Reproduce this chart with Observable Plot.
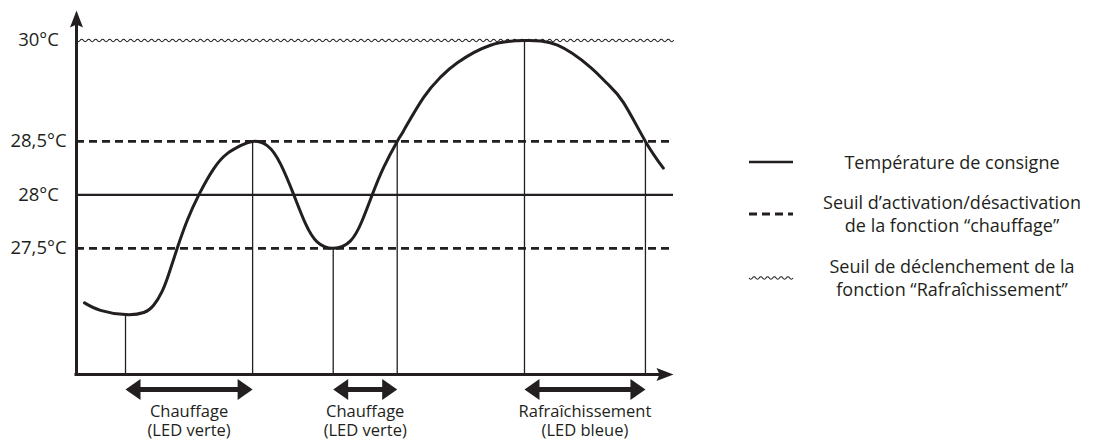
<!DOCTYPE html>
<html><head><meta charset="utf-8">
<script src="https://cdn.jsdelivr.net/npm/d3@7"></script>
<script src="https://cdn.jsdelivr.net/npm/@observablehq/plot@0.6"></script>
<style>
body{margin:0;background:#fff;font-family:"Open Sans",sans-serif;color:#231f20}
#wrap{position:relative;width:1093px;height:444px;overflow:hidden}
.sw{position:absolute;left:748px;width:46px;height:12px;transform:translateY(-50%)}
.lt{position:absolute;left:792px;width:320px;text-align:center;white-space:nowrap;font-size:18px;line-height:23px;transform:translateY(-50%)}
</style></head><body><div id="wrap"></div>
<script>
// ---- data ----
const timeT = [1.34, 4.02, 8.21, 11.27, 12.95, 14.36, 15.46, 16.87, 18.54, 20.49, 23.0, 25.24, 27.47, 29.5, 31.94, 34.17, 36.4, 38.36, 40.3, 43.0, 45.9, 47.86, 49.53, 51.47, 53.72, 54.8, 58.12, 60.97, 63.8, 69.35, 75.04, 80.57, 86.1, 88.9, 91.6, 95.3, 98.3];
const tempT = [26.99, 26.92, 26.88, 26.90, 26.97, 27.10, 27.26, 27.5, 27.76, 28.0, 28.245, 28.385, 28.46, 28.5, 28.46, 28.29, 28.0, 27.73, 27.56, 27.5, 27.57, 27.76, 28.0, 28.26, 28.5, 28.66, 29.15, 29.455, 29.67, 29.93, 30.0, 29.93, 29.60, 29.36, 29.08, 28.5, 28.25];
const eventT = [8.21, 29.5, 43.0, 53.72, 75.04, 95.3];
const eventTemp = [26.88, 28.5, 27.5, 28.5, 30, 28.5];
const periodStart = [8.21, 43.0, 75.04];
const periodEnd = [29.5, 53.72, 95.3];
const periodLabel = ["Chauffage\n(LED verte)", "Chauffage\n(LED verte)", "Rafraîchissement\n(LED bleue)"];
const yTickValues = [27.5, 28, 28.5, 30];
const yTickLabels = ["27,5°C", "28°C", "28,5°C", "30°C"];
const setpoint = 28;
const heatThresholds = [27.5, 28.5];
const coolThreshold = 30;
const axisBottomTemp = 26.32;
const legendLabels = ["Température de consigne", "Seuil d’activation/désactivation\nde la fonction “chauffage”", "Seuil de déclenchement de la\nfonction “Rafraîchissement”"];

// ---- build ----
const INK = "#231f20";
const xDomain = [0, 100];
// the drawing compresses the axis above 28,5 °C
const yCompress = t => t <= 28.5 ? t : 28.5 + (t - 28.5) * 0.629;
const curve = timeT.map((t, i) => ({t, temp: tempT[i]}));
const events = eventT.map((t, i) => ({t, temp: eventTemp[i]}));
const periods = periodStart.map((s, i) => ({start: s, end: periodEnd[i], mid: (s + periodEnd[i]) / 2, label: periodLabel[i]}));

function waveCurve(context) {
  let pts = [];
  return {
    areaStart() {}, areaEnd() {},
    lineStart() { pts = []; },
    point(x, y) { pts.push([+x, +y]); },
    lineEnd() {
      const half = 3.5, amp = 1.2;
      for (let i = 0; i < pts.length; i++) {
        const [x, y] = pts[i];
        if (i === 0) { context.moveTo(x, y); continue; }
        const [x0, y0] = pts[i - 1];
        const len = Math.hypot(x - x0, y - y0);
        const n = Math.max(1, Math.round(len / half));
        const ux = (x - x0) / len, uy = (y - y0) / len, nx = -uy, ny = ux;
        for (let k = 0; k < n; k++) {
          const s = (k + 0.5) / n * len, e = (k + 1) / n * len, sg = k % 2 ? -1 : 1;
          context.quadraticCurveTo(x0 + ux * s + nx * amp * 2 * sg, y0 + uy * s + ny * amp * 2 * sg, x0 + ux * e, y0 + uy * e);
        }
      }
    }
  };
}
const head = (len, half, notch) => ({draw(ctx) {
  ctx.moveTo(0, 0); ctx.lineTo(half, len); ctx.lineTo(0, len - notch); ctx.lineTo(-half, len); ctx.closePath();
}});
const axisHead = head(17, 6.5, 3);
const bigHead = head(15, 10.5, 0);

const plot = Plot.plot({
  width: 1093, height: 444,
  marginLeft: 76, marginRight: 420, marginTop: 40, marginBottom: 70,
  style: {fontFamily: "Open Sans", color: INK, background: "transparent"},
  x: {domain: xDomain, axis: null},
  y: {transform: yCompress, axis: null},
  marks: [
    Plot.line([[xDomain[0], coolThreshold], [xDomain[1], coolThreshold]], {curve: waveCurve, stroke: INK, strokeWidth: 1.1}),
    Plot.ruleY(heatThresholds, {stroke: INK, strokeWidth: 2.8, strokeDasharray: "8,5"}),
    Plot.ruleY([setpoint], {stroke: INK, strokeWidth: 2.4}),
    Plot.ruleX(events, {x: "t", y1: axisBottomTemp, y2: "temp", stroke: INK, strokeWidth: 1.3}),
    Plot.line(curve, {x: "t", y: "temp", curve: "natural", stroke: INK, strokeWidth: 3}),
    Plot.ruleX([xDomain[0]], {y1: coolThreshold, y2: axisBottomTemp, insetTop: -16, insetBottom: -1.5, stroke: INK, strokeWidth: 3}),
    Plot.ruleY([axisBottomTemp], {stroke: INK, strokeWidth: 3, insetRight: 12, insetLeft: -1.5}),
    Plot.dot([xDomain[0]], {x: d => d, y: coolThreshold, dy: -30, symbol: axisHead, fill: INK, stroke: "none", r: 5}),
    Plot.dot([xDomain[1]], {x: d => d, y: axisBottomTemp, symbol: axisHead, rotate: 90, fill: INK, stroke: "none", r: 5}),
    Plot.ruleY(periods, {x1: "start", x2: "end", y: axisBottomTemp, dy: 15, stroke: INK, strokeWidth: 5, insetLeft: 8, insetRight: 8}),
    Plot.dot(periods, {x: "start", y: axisBottomTemp, dy: 15, symbol: bigHead, rotate: -90, fill: INK, stroke: "none", r: 5}),
    Plot.dot(periods, {x: "end", y: axisBottomTemp, dy: 15, symbol: bigHead, rotate: 90, fill: INK, stroke: "none", r: 5}),
    Plot.text(periods, {x: "mid", y: axisBottomTemp, dy: 46, text: "label", lineAnchor: "middle", lineHeight: 1.12, fontSize: 16.5, fill: INK}),
    Plot.axisY(yTickValues, {tickSize: 0, tickPadding: 3, tickFormat: d => yTickLabels[yTickValues.indexOf(d)], textAnchor: "middle", dx: -35, fontSize: 18.5, fill: INK, label: null})
  ]
});
const wrap = document.getElementById("wrap");
wrap.appendChild(plot);

// ---- legend ----
const legendY = [162, 214, 278];
const swatchStyles = ["solid", "dashed", "wave"];
swatchStyles.forEach((kind, i) => {
  const svg = d3.select(wrap).append("svg").attr("class", "sw").attr("width", 46).attr("height", 12).style("top", legendY[i] + "px");
  if (kind === "wave") {
    svg.append("path").attr("d", d3.line().curve(waveCurve)([[1, 6], [45, 6]])).attr("fill", "none").attr("stroke", INK).attr("stroke-width", 1.1);
  } else {
    svg.append("line").attr("x1", 1).attr("x2", 45).attr("y1", 6).attr("y2", 6).attr("stroke", INK)
      .attr("stroke-width", kind === "solid" ? 2.4 : 2.8).attr("stroke-dasharray", kind === "dashed" ? "8,5" : null);
  }
  const div = d3.select(wrap).append("div").attr("class", "lt").style("top", legendY[i] + "px");
  legendLabels[i].split("\n").forEach(line => div.append("div").text(line));
});
</script>
</body></html>
